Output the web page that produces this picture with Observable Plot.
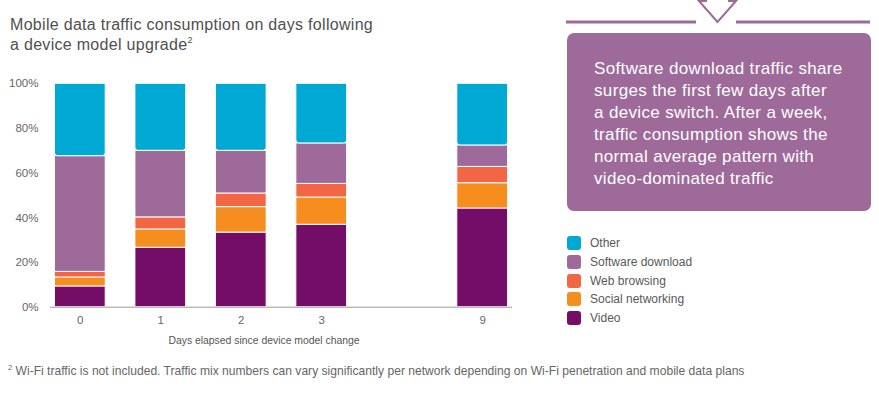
<!DOCTYPE html>
<html><head><meta charset="utf-8">
<script src="https://cdn.jsdelivr.net/npm/d3@7"></script>
<script src="https://cdn.jsdelivr.net/npm/@observablehq/plot@0.6"></script>
<style>
body{margin:0;background:#fff;font-family:"Liberation Sans",Arial,sans-serif;}
#root{position:relative;width:879px;height:394px;overflow:hidden;background:#fff;}
#title{position:absolute;left:10px;top:15px;font-size:16px;line-height:20px;letter-spacing:0.3px;color:#505050;}
#title sup{font-size:9px;line-height:0;vertical-align:7px;}
#chart{position:absolute;left:0;top:70px;}
#deco{position:absolute;left:0;top:0;}
#callout{position:absolute;left:567px;top:33px;width:304px;height:178px;box-sizing:border-box;
 background:#9E6A99;border-radius:7px;color:#fff;font-size:17px;line-height:22px;letter-spacing:0.35px;padding:25px 0 0 27px;}
#legend{position:absolute;left:567px;top:234px;}
.row{display:flex;align-items:center;height:18.7px;font-size:12px;color:#595959;}
.sw{width:14px;height:14px;border-radius:3px;margin-right:9px;flex:none;}
#foot{position:absolute;left:8px;top:364px;font-size:12.1px;color:#666;white-space:nowrap;}
#foot sup{font-size:7.5px;vertical-align:5px;line-height:0;}
</style></head>
<body><div id="root">
<div id="title">Mobile data traffic consumption on days following<br>a device model upgrade<sup>2</sup></div>
<div id="chart"></div>
<svg id="deco" width="879" height="40">
 <line x1="566" y1="22" x2="696" y2="22" stroke="#9E6A99" stroke-width="3"/>
 <line x1="736" y1="22" x2="870" y2="22" stroke="#9E6A99" stroke-width="3"/>
 <polyline points="706,-10 706,1 699,1 717.5,22 736,1 729,1 729,-10" fill="none" stroke="#9E6A99" stroke-width="2"/>
</svg>
<div id="callout">Software download traffic share<br>surges the first few days after<br>a device switch. After a week,<br>traffic consumption shows the<br>normal average pattern with<br>video-dominated traffic</div>
<div id="legend"></div>
<div id="foot"><sup>2</sup> Wi-Fi traffic is not included. Traffic mix numbers can vary significantly per network depending on Wi-Fi penetration and mobile data plans</div>
</div>
<script>
// Days shown on the x axis (a blank slot separates day 3 from day 9)
const days = ["0", "1", "2", "3", "9"];
const slots = ["0", "1", "2", "3", " ", "9"];

// Share of traffic (%) per day
const video    = [9.3, 26.6, 33.4, 36.9, 44.2];
const social   = [4.0, 8.2, 11.4, 12.2, 11.3];
const web      = [2.5, 5.4, 6.1, 6.1, 7.3];
const software = [51.8, 29.8, 19.1, 18.1, 9.6];
const other    = [32.4, 30.0, 30.0, 26.7, 27.6];

const categories = ["Other", "Software download", "Web browsing", "Social networking", "Video"];
const colors     = ["#00A9D4", "#9E6A99", "#F26646", "#F68D1F", "#740D68"];
const yTicks = [0, 20, 40, 60, 80, 100];
const xLabel = "Days elapsed since device model change";

const lower = [
  ["Video", video], ["Social networking", social], ["Web browsing", web], ["Software download", software]
];
const rows = days.flatMap((d, i) => lower.map(([c, v]) => ({day: d, category: c, value: v[i]})));
const otherRows = days.map((d, i) => ({day: d, category: "Other", value: other[i]}));

const chart = Plot.plot({
  width: 530, height: 280,
  marginLeft: 50, marginRight: 18, marginTop: 13.3, marginBottom: 43.3,
  style: {fontFamily: "'Liberation Sans', Arial, sans-serif", color: "#666", background: "transparent"},
  x: {type: "band", domain: slots, paddingInner: 0.369, paddingOuter: 0.055, round: false, axis: null},
  y: {domain: [0, 100], axis: null},
  color: {domain: categories, range: colors},
  marks: [
    Plot.barY(rows, {x: "day", y: "value", fill: "category",
      order: lower.map(d => d[0]), stroke: "#fff", strokeWidth: 1}),
    Plot.barY(otherRows, {x: "day", y1: d => 100 - d.value, y2: 100, fill: "category",
      stroke: "#fff", strokeWidth: 1, ry2: 3}),
    Plot.axisY({ticks: yTicks, tickFormat: d => d + "%", tickSize: 0, tickPadding: 12,
      fontSize: 11.5, label: null, fill: "#666"}),
    Plot.axisX({ticks: days, tickSize: 0, tickPadding: 9, fontSize: 11.5, label: null, fill: "#666"}),
    Plot.ruleY([0], {stroke: "#9a9a9a", strokeWidth: 1}),
    Plot.text([xLabel], {frameAnchor: "bottom", lineAnchor: "middle", dx: -17.5, dy: 33.3,
      fontSize: 10.4, fill: "#555"})
  ]
});
document.getElementById("chart").appendChild(chart);

const legend = document.getElementById("legend");
categories.forEach((c, i) => {
  const r = document.createElement("div");
  r.className = "row";
  r.innerHTML = `<span class="sw" style="background:${colors[i]}"></span><span>${c}</span>`;
  legend.appendChild(r);
});
</script>
</body></html>
